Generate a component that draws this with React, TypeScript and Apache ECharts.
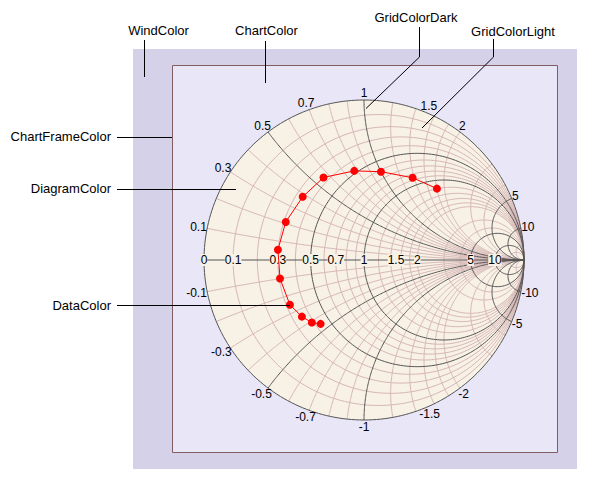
import React, { useEffect, useRef } from "react";
import * as echarts from "echarts";

// ---- data ----
const resistanceLight = [0.1, 0.2, 0.3, 0.4, 0.6, 0.7, 0.8, 0.9, 1.2, 1.4, 1.6, 1.8, 2, 3, 4, 20];
const resistanceDark = [0, 0.5, 1, 5, 10];
const reactanceLight = [0.1, 0.2, 0.3, 0.4, 0.6, 0.7, 0.8, 0.9, 1.2, 1.4, 1.6, 1.8, 2, 3, 4, 20];
const reactanceDark = [0.5, 1, 5, 10];
const axisTicks = [0, 0.1, 0.3, 0.5, 0.7, 1, 1.5, 2, 5, 10];
const rimTicks = [0.1, 0.3, 0.5, 0.7, 1, 1.5, 2, 5, 10, -0.1, -0.3, -0.5, -0.7, -1, -1.5, -2, -5, -10];
// reflection coefficient (real, imaginary) of the measured points
const dataRe = [0.456, 0.304, 0.106, -0.061, -0.253, -0.383, -0.489, -0.538, -0.525, -0.463, -0.388, -0.326, -0.271];
const dataIm = [0.446, 0.514, 0.552, 0.557, 0.516, 0.395, 0.238, 0.064, -0.116, -0.28, -0.354, -0.391, -0.399];

const COL = {
  wind: "#D4D1E8",
  chart: "#E8E6F7",
  frame: "#805E60",
  diagram: "#F8F1E6",
  light: "#D6B6B6",
  dark: "#555555",
  data: "#FF0000",
};
const FONT_NUM = '12px "Liberation Sans", Arial, sans-serif';
const FONT_ANN = '13px "Liberation Sans", Arial, sans-serif';

function resistanceCircle(r: number): number[][] {
  const cx = r / (1 + r);
  const rad = 1 / (1 + r);
  const pts: number[][] = [];
  const N = 240;
  for (let i = 0; i <= N; i++) {
    const t = (i / N) * Math.PI * 2;
    pts.push([cx + rad * Math.cos(t), rad * Math.sin(t)]);
  }
  return pts;
}

function reactanceArc(x: number): number[][] {
  const ax = Math.abs(x);
  let phiB = Math.atan2((ax * ax - 1) / ax, -2);
  if (phiB < 0) phiB += Math.PI * 2;
  const phiE = (3 * Math.PI) / 2;
  const N = 200;
  const pts: number[][] = [];
  for (let i = 0; i <= N; i++) {
    const a = phiB + ((phiE - phiB) * i) / N;
    const px = 1 + Math.cos(a) / ax;
    const py = 1 / ax + Math.sin(a) / ax;
    pts.push([px, x < 0 ? -py : py]);
  }
  return pts;
}

function textWidth(t: string): number {
  let w = 0;
  for (const ch of t) {
    if (ch === ".") w += 3.34;
    else if (ch === "-") w += 4;
    else w += 6.67;
  }
  return w;
}

const fmt = (v: number) => String(v);

export default function App() {
  const ref = useRef<HTMLDivElement>(null);
  useEffect(() => {
    if (!ref.current) return;
    const chart = echarts.init(ref.current, undefined, { renderer: "svg" });

    const line = (pts: number[][], color: string, z: number) => ({
      type: "line",
      data: pts,
      showSymbol: false,
      symbol: "none",
      silent: true,
      clip: false,
      z,
      lineStyle: { color, width: 1 },
    });

    const series: any[] = [];
    series.push({
      type: "custom",
      coordinateSystem: "cartesian2d",
      data: [[0, 0]],
      silent: true,
      z: 1,
      renderItem: (_p: any, api: any) => {
        const c = api.coord([0, 0]);
        const s = api.size([1, 1]);
        return { type: "circle", shape: { cx: c[0], cy: c[1], r: s[0] }, style: { fill: COL.diagram } };
      },
    });
    resistanceLight.forEach((r) => series.push(line(resistanceCircle(r), COL.light, 2)));
    reactanceLight.forEach((x) => {
      series.push(line(reactanceArc(x), COL.light, 2));
      series.push(line(reactanceArc(-x), COL.light, 2));
    });
    resistanceDark.forEach((r) => series.push(line(resistanceCircle(r), COL.dark, 3)));
    reactanceDark.forEach((x) => {
      series.push(line(reactanceArc(x), COL.dark, 3));
      series.push(line(reactanceArc(-x), COL.dark, 3));
    });
    series.push(line([[-1, 0], [1, 0]], COL.dark, 3));

    // axis labels along the real axis
    series.push({
      type: "custom",
      coordinateSystem: "cartesian2d",
      silent: true,
      z: 4,
      data: axisTicks.map((r) => [(r - 1) / (r + 1), 0]),
      renderItem: (params: any, api: any) => {
        const p = api.coord([api.value(0), api.value(1)]);
        return {
          type: "text",
          x: p[0],
          y: p[1],
          style: {
            text: fmt(axisTicks[params.dataIndex]),
            align: "center",
            verticalAlign: "middle",
            fill: "#000",
            font: FONT_NUM,
            backgroundColor: COL.diagram,
          },
        };
      },
    });

    // labels around the rim
    series.push({
      type: "custom",
      coordinateSystem: "cartesian2d",
      silent: true,
      z: 4,
      data: rimTicks.map((x) => [(x * x - 1) / (x * x + 1), (2 * x) / (x * x + 1)]),
      renderItem: (params: any, api: any) => {
        const gx = api.value(0);
        const gy = api.value(1);
        const p = api.coord([gx, gy]);
        const t = fmt(rimTicks[params.dataIndex]);
        const w = textWidth(t);
        const th = Math.atan2(gy, gx);
        return {
          type: "text",
          x: p[0] + Math.cos(th) * (w / 2 + 0.5),
          y: p[1] - Math.sin(th) * 7,
          style: { text: t, align: "center", verticalAlign: "middle", fill: "#000", font: FONT_NUM },
        };
      },
    });

    series.push({
      type: "line",
      data: dataRe.map((v, i) => [v, dataIm[i]]),
      z: 5,
      symbol: "circle",
      symbolSize: 8,
      showSymbol: true,
      clip: false,
      lineStyle: { color: COL.data, width: 1 },
      itemStyle: { color: COL.data },
    });

    const lineEl = (pts: number[][]) => ({
      type: "polyline",
      z: 100,
      silent: true,
      shape: { points: pts },
      style: { stroke: "#000", lineWidth: 1, fill: null },
    });
    const textEl = (text: string, x: number, y: number, align: string) => ({
      type: "text",
      z: 100,
      x,
      y,
      style: { text, font: FONT_ANN, fill: "#000", align, verticalAlign: "middle" },
    });

    chart.setOption({
      animation: false,
      backgroundColor: "#ffffff",
      grid: { left: 204, top: 100, width: 320, height: 320 },
      xAxis: { type: "value", min: -1, max: 1, show: false },
      yAxis: { type: "value", min: -1, max: 1, show: false },
      graphic: [
        { type: "rect", z: -10, shape: { x: 133, y: 49, width: 444, height: 420 }, style: { fill: COL.wind } },
        { type: "rect", z: -9, shape: { x: 172.5, y: 65.5, width: 385, height: 387 }, style: { fill: COL.chart, stroke: COL.frame, lineWidth: 1 } },
        textEl("WindColor", 158.5, 30, "center"),
        textEl("ChartColor", 266.5, 30, "center"),
        textEl("GridColorDark", 416, 17, "center"),
        textEl("GridColorLight", 513, 31, "center"),
        textEl("ChartFrameColor", 111, 136, "right"),
        textEl("DiagramColor", 111, 188.5, "right"),
        textEl("DataColor", 111, 305, "right"),
        lineEl([[144.5, 40], [144.5, 77]]),
        lineEl([[265.5, 41], [265.5, 83]]),
        lineEl([[117, 137.5], [172, 137.5]]),
        lineEl([[117, 189.5], [236, 189.5]]),
        lineEl([[117, 305.5], [290, 305.5]]),
        lineEl([[419.5, 27], [419.5, 57], [366, 108.5]]),
        lineEl([[493.5, 39], [493.5, 57], [422, 128]]),
      ],
      series,
    });
    return () => chart.dispose();
  }, []);
  return <div ref={ref} style={{ position: "fixed", left: 0, top: 0, width: 592, height: 482 }} />;
}
